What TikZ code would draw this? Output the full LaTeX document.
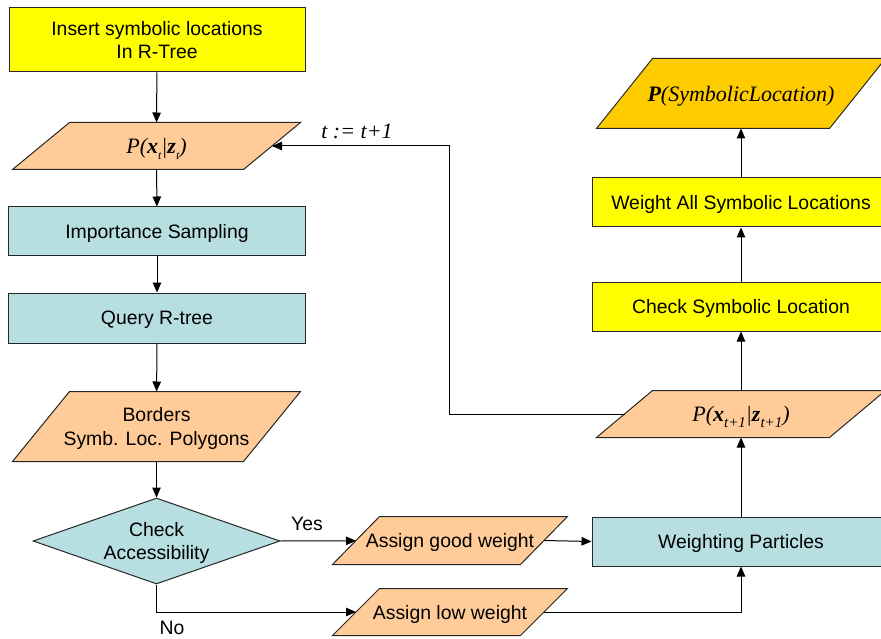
\documentclass[tikz,border=0pt]{standalone}
\usepackage{fontspec}
\setmainfont{Liberation Sans}
\newfontfamily\timesfont{Liberation Serif}
\usetikzlibrary{shapes.geometric,arrows.meta,backgrounds}

\definecolor{yellowfill}{HTML}{FFFF00}
\definecolor{goldfill}{HTML}{FFCC00}
\definecolor{peachfill}{HTML}{FFCC99}
\definecolor{bluefill}{HTML}{B7DEE1}

% subscript sized for the large serif formulas
\newcommand\lowsub[2][13]{\raisebox{-0.28em}{\fontsize{#1}{#1}\selectfont #2}}

\tikzset{
  base/.style={draw=black!85, line width=1pt, align=center, inner sep=2pt,
    text depth=0pt, font=\fontsize{19.4}{23.5}\selectfont},
  procbox/.style={base, rectangle, minimum height=49pt},
  yellowbox/.style={procbox, fill=yellowfill},
  bluebox/.style={procbox, fill=bluefill},
  % data nodes: the rectangle spans the horizontal edges of a parallelogram,
  % whose slanted outline is drawn behind it
  iobox/.style={base, rectangle, draw=none, inner sep=0pt},
  ioline/.style={draw=black!85, line width=1pt, line join=miter},
  decision/.style={base, diamond, fill=bluefill, inner sep=0pt,
    minimum width=247pt, minimum height=86pt, aspect=2.87},
  formula/.style={font=\timesfont\fontsize{22}{26}\selectfont\itshape},
  arr/.style={-{Triangle[length=10pt,width=8.5pt]}, line width=1pt, draw=black},
  lbl/.style={font=\fontsize{19.4}{23.5}\selectfont, inner sep=0pt}
}

% parallelogram behind data node #1, with horizontal offset #2 between
% its top and bottom edges, filled with #3
\newcommand\slantbox[3]{%
  \path[ioline, fill=#3]
    ([xshift=-#2/2]#1.south west) -- ([xshift=#2/2]#1.north west) --
    ([xshift=#2/2]#1.north east) -- ([xshift=-#2/2]#1.south east) -- cycle;}

\begin{document}
\begin{tikzpicture}[x=1pt, y=-1pt]
\useasboundingbox (0,0) rectangle (881,639);

% left column
\node[yellowbox, minimum width=296pt, minimum height=64pt] (ins) at (157,40)
  {Insert symbolic locations\\In R-Tree};
\node[iobox, formula, minimum width=230pt, minimum height=46pt] (pt) at (156.5,146)
  {P(\textbf{x}\lowsub[12]{t}|\textbf{z}\lowsub[12]{t})};
\node[bluebox, minimum width=297pt] (imp) at (157,231.5) {Importance Sampling};
\node[bluebox, minimum width=297pt, minimum height=50pt] (qry) at (157,318) {Query R-tree};
\node[iobox, minimum width=230pt, minimum height=69pt] (brd) at (156.5,426.5)
  {Borders\\Symb. Loc. Polygons};
\node[decision] (acc) at (156.5,541) {Check\\Accessibility};

% weighting branch
\node[iobox, minimum width=187pt, minimum height=47pt] (good) at (450,540.5) {Assign good weight};
\node[iobox, minimum width=187pt, minimum height=46pt] (low) at (450,612) {Assign low weight};
\node[bluebox, minimum width=298pt] (wp) at (741,541.5) {Weighting Particles};

% right column
\node[iobox, formula, minimum width=232pt, minimum height=46pt] (pn) at (741,414)
  {P(\textbf{x}\lowsub[15]{t+1}|\textbf{z}\lowsub[15]{t+1})};
\node[yellowbox, minimum width=298pt] (chk) at (741,306.5) {Check Symbolic Location};
\node[yellowbox, minimum width=298pt] (wall) at (741,202.5) {Weight All Symbolic Locations};
\node[iobox, formula, minimum width=232pt, minimum height=69pt] (ps) at (741,93.5)
  {\textbf{P}(SymbolicLocation)};

% slanted outlines of the data nodes
\begin{scope}[on background layer]
  \slantbox{pt}{57}{peachfill}
  \slantbox{brd}{57}{peachfill}
  \slantbox{good}{47}{peachfill}
  \slantbox{low}{47}{peachfill}
  \slantbox{pn}{56}{peachfill}
  \slantbox{ps}{56}{goldfill}
\end{scope}

% loop-back corner
\coordinate (back) at (449,146);

% labels
\node[lbl] (yes) at (307,524) {Yes};
\node[lbl] (no) at (172,628) {No};
\node[font=\timesfont\fontsize{22}{26}\selectfont\itshape, inner sep=0pt] (inc) at (357,131) {t := t+1};

% connectors
\draw[arr] (ins) -- (pt);
\draw[arr] (pt) -- (imp);
\draw[arr] (imp) -- (qry);
\draw[arr] (qry) -- (brd);
\draw[arr] (brd) -- (acc);
\draw[arr] (acc.east) -- (good);
\draw[arr] (acc.south) |- (low);
\draw[arr] (good.east) -- (wp.west);
\draw[arr] (low.east) -| (wp.south);
\draw[arr] (wp) -- (pn);
\draw[arr] (pn) -- (chk);
\draw[arr] (chk) -- (wall);
\draw[arr] (wall) -- (ps);
\draw[arr] (pn.west) -| (back) -- (pt.east);
\end{tikzpicture}
\end{document}
